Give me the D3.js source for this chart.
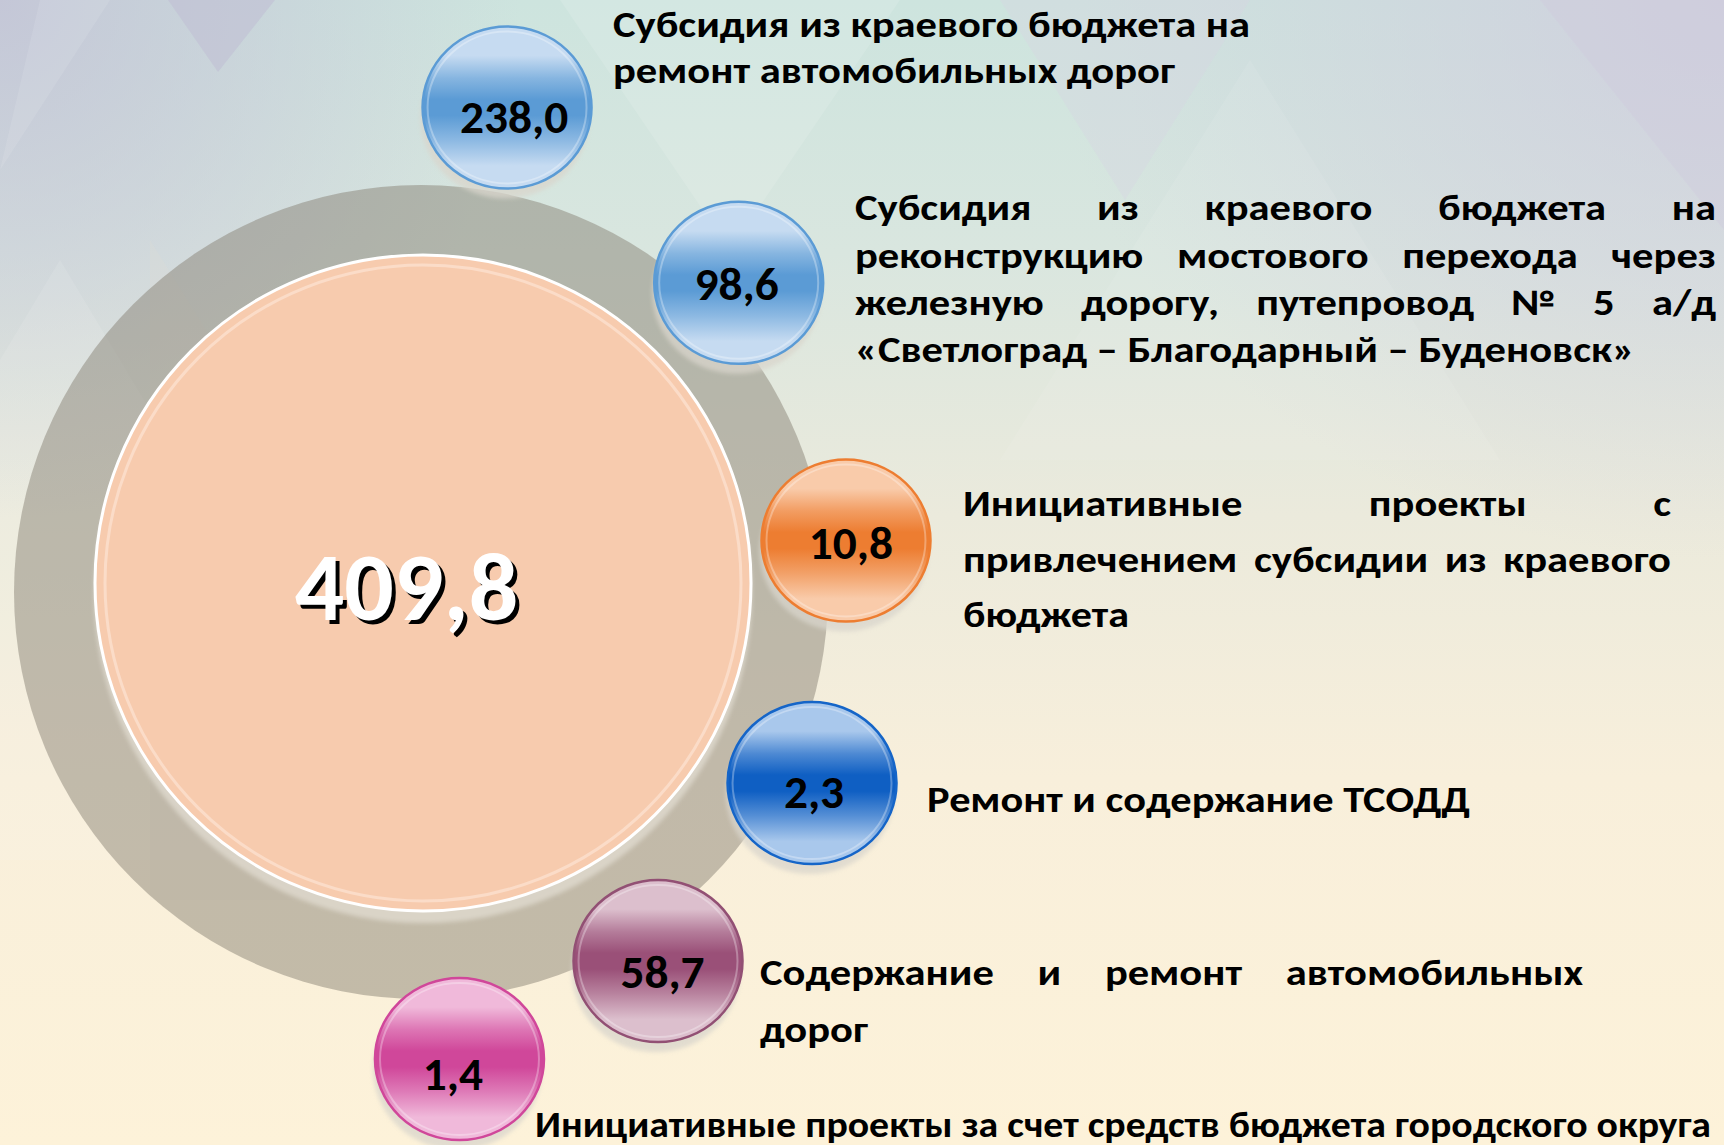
<!DOCTYPE html>
<html><head><meta charset="utf-8">
<script src="https://cdn.jsdelivr.net/npm/d3@7"></script>
<style>html,body{margin:0;padding:0;overflow:hidden;background:#f5efdd}</style>
</head><body><svg id="chart" width="1724" height="1145"></svg>
<script>
// ---------------- DATA ----------------
const categories = [
  "Субсидия из краевого бюджета на ремонт автомобильных дорог",
  "Субсидия из краевого бюджета на реконструкцию мостового перехода через железную дорогу, путепровод № 5 а/д «Светлоград – Благодарный – Буденовск»",
  "Инициативные проекты с привлечением субсидии из краевого бюджета",
  "Ремонт и содержание ТСОДД",
  "Содержание и ремонт автомобильных дорог",
  "Инициативные проекты за счет средств бюджета городского округа"
];
const values = [238.0, 98.6, 10.8, 2.3, 58.7, 1.4];
const labelLines = [
  ["Субсидия из краевого бюджета на", "ремонт автомобильных дорог"],
  ["Субсидия из краевого бюджета на", "реконструкцию мостового перехода через", "железную дорогу, путепровод № 5 а/д", "«Светлоград – Благодарный – Буденовск»"],
  ["Инициативные проекты с", "привлечением субсидии из краевого", "бюджета"],
  ["Ремонт и содержание ТСОДД"],
  ["Содержание и ремонт автомобильных", "дорог"],
  ["Инициативные проекты за счет средств бюджета городского округа"]
];

// ---------------- LAYOUT / STYLE ----------------
const W = 1724, H = 1145;
const RING = {x: 421, y: 592, r: 407};
const CORE = {x: 423, y: 583, r: 328};
const BUBBLE_RX = 84.5, BUBBLE_RY = 81;
const bubbleAngles = [-79.93, -44.22, -6.91, 26.04, 57.29, 85.29];
const bubbleDist   = [492.1, 443.3, 428.1, 435.2, 438.6, 468.6];
const valueOffsets = [[7,10],[-2,2],[5,3.5],[2,9.5],[4.5,11.5],[-6.5,16]];
const palette = [
  {light:"#c6dbf1", mid:"#5b9bd5", edge:"#5b9bd5"},
  {light:"#c6dbf1", mid:"#5b9bd5", edge:"#5b9bd5"},
  {light:"#f9cbaa", mid:"#ed7d31", edge:"#ed7d31"},
  {light:"#a9c8ec", mid:"#0f5fc3", edge:"#1565c8"},
  {light:"#dcbfcd", mid:"#9a5078", edge:"#925074"},
  {light:"#f0b9da", mid:"#d0479a", edge:"#d0479a"}
];
// per line: baseline y, x0, x1, justified?
const labelLayout = [
  [{y:36.5,x0:613,x1:1250,j:false},{y:83,x0:613,x1:1175,j:false}],
  [{y:220,x0:855,x1:1716,j:true},{y:267.5,x0:855,x1:1716,j:true},{y:315,x0:855,x1:1716,j:true},{y:362,x0:855,x1:1635,j:false}],
  [{y:516,x0:963,x1:1671,j:true},{y:571.5,x0:963,x1:1671,j:true},{y:627,x0:963,x1:1129,j:false}],
  [{y:812,x0:927,x1:1470,j:false}],
  [{y:985,x0:760,x1:1583,j:true},{y:1042,x0:760,x1:868,j:false}],
  [{y:1137,x0:535,x1:1711,j:false}]
];

// ---------------- FONT PICK ----------------
function hasFont(name, sample){
  const c = document.createElement('canvas').getContext('2d');
  const m = fb => { c.font = `bold 100px "${name}", ${fb}`; return c.measureText(sample).width; };
  return Math.abs(m('monospace') - m('serif')) < 0.5;
}
const capRatios = {"Carlito":0.644,"Lato":0.7165,"Open Sans":0.714,"Noto Sans":0.714,"DejaVu Sans":0.729};
const FONT = ["Carlito","Lato","Open Sans","Noto Sans","DejaVu Sans"].find(f => hasFont(f, "Субсидия бюджета ЖЩЫ №«» 0123")) || "DejaVu Sans";
const CAP = capRatios[FONT] || 0.72;
const FF = `"${FONT}", sans-serif`;
const FW = 800;

const ruFormat = d3.formatLocale({decimal:",", thousands:" ", grouping:[3], currency:["",""]}).format(".1f");

// ---------------- SVG ----------------
const svg = d3.select("#chart");
const defs = svg.append("defs");

// background gradients
const bg = defs.append("linearGradient").attr("id","bg").attr("x1",0).attr("y1",0).attr("x2",0).attr("y2",1);
[[0,"#cde4de"],[0.22,"#d9e6df"],[0.45,"#ebeadc"],[0.68,"#f8efdb"],[1,"#fdf2d9"]].forEach(([o,c])=>bg.append("stop").attr("offset",o).attr("stop-color",c));
const lavL = defs.append("radialGradient").attr("id","lavL").attr("cx",0).attr("cy",0).attr("r",1).attr("gradientUnits","objectBoundingBox");
lavL.append("stop").attr("offset",0).attr("stop-color","#c3c2d6").attr("stop-opacity",0.85);
lavL.append("stop").attr("offset",1).attr("stop-color","#c3c2d6").attr("stop-opacity",0);
const lavR = defs.append("radialGradient").attr("id","lavR").attr("cx",1).attr("cy",0).attr("r",1).attr("gradientUnits","objectBoundingBox");
lavR.append("stop").attr("offset",0).attr("stop-color","#d0cbde").attr("stop-opacity",0.8);
lavR.append("stop").attr("offset",1).attr("stop-color","#d0cbde").attr("stop-opacity",0);

svg.append("rect").attr("width",W).attr("height",H).attr("fill","url(#bg)");
svg.append("rect").attr("x",0).attr("y",0).attr("width",520).attr("height",520).attr("fill","url(#lavL)");
svg.append("rect").attr("x",1050).attr("y",0).attr("width",674).attr("height",560).attr("fill","url(#lavR)");

// faint triangle texture
const tris = [
  {p:[[168,0],[275,0],[218,72]], c:"#bfbdd4", o:0.55},
  {p:[[40,0],[110,0],[0,170]], c:"#ffffff", o:0.10},
  {p:[[60,260],[420,860],[-300,860]], c:"#ffffff", o:0.10},
  {p:[[150,240],[560,900],[150,900]], c:"#e6e0d2", o:0.18},
  {p:[[560,0],[900,0],[730,250]], c:"#ffffff", o:0.12},
  {p:[[1000,0],[1250,0],[1125,200]], c:"#d7d3e2", o:0.35},
  {p:[[1250,60],[1500,460],[1000,460]], c:"#ffffff", o:0.08},
  {p:[[1540,0],[1724,0],[1724,230]], c:"#cdc9dc", o:0.35}
];
svg.append("g").selectAll("polygon").data(tris).join("polygon")
  .attr("points", d => d.p.map(q=>q.join(",")).join(" "))
  .attr("fill", d=>d.c).attr("opacity", d=>d.o);

// filters
const blur = defs.append("filter").attr("id","soft").attr("x","-20%").attr("y","-20%").attr("width","140%").attr("height","140%");
blur.append("feGaussianBlur").attr("stdDeviation",2);

// big gray ring disc
svg.append("circle").attr("cx",RING.x).attr("cy",RING.y).attr("r",RING.r)
  .attr("fill","rgb(131,125,112)").attr("fill-opacity",0.47);

// core shadow
svg.append("circle").attr("cx",CORE.x).attr("cy",CORE.y+11).attr("r",CORE.r+1)
  .attr("fill","#e2ddd2").attr("opacity",0.75).attr("filter","url(#soft)");
// core
svg.append("circle").attr("cx",CORE.x).attr("cy",CORE.y).attr("r",CORE.r)
  .attr("fill","#f7cbae").attr("stroke","#ffffff").attr("stroke-width",3);
svg.append("circle").attr("cx",CORE.x).attr("cy",CORE.y).attr("r",CORE.r-10)
  .attr("fill","none").attr("stroke","#fbdcc8").attr("stroke-width",3);

// total value
const total = d3.sum(values);
const bigCap = 63, bigFs = bigCap / CAP;
const bigX = 406.5, bigY = 620;
svg.append("text").attr("x",bigX+4).attr("y",bigY+4).attr("text-anchor","middle")
  .attr("font-family",FF).attr("font-weight",FW).attr("font-size",bigFs).attr("fill","#000").text(ruFormat(total));
svg.append("text").attr("x",bigX).attr("y",bigY).attr("text-anchor","middle")
  .attr("font-family",FF).attr("font-weight",FW).attr("font-size",bigFs).attr("fill","#fff").text(ruFormat(total));

// scales
const angleScale = d3.scaleOrdinal().domain(categories).range(bubbleAngles);
const distScale = d3.scaleOrdinal().domain(categories).range(bubbleDist);
const colorScale = d3.scaleOrdinal().domain(categories).range(palette);

const bubbles = categories.map((c,i) => {
  const a = angleScale(c) * Math.PI/180, r = distScale(c);
  return {cat:c, value:values[i], i, cx: RING.x + r*Math.cos(a), cy: RING.y + r*Math.sin(a), col: colorScale(c)};
});

// gradients per bubble
bubbles.forEach(b => {
  const g = defs.append("linearGradient").attr("id","bub"+b.i).attr("x1",0).attr("y1",0).attr("x2",0).attr("y2",1);
  const mix1 = d3.interpolateRgb(b.col.light, b.col.mid);
  [[0,b.col.light],[0.18,b.col.light],[0.32,mix1(0.6)],[0.45,b.col.mid],[0.55,b.col.mid],[0.7,mix1(0.55)],[0.86,b.col.light],[1,b.col.light]]
    .forEach(([o,c]) => g.append("stop").attr("offset",o).attr("stop-color",c));
});

const bg2 = svg.append("g");
bg2.selectAll("ellipse.shadow").data(bubbles).join("ellipse").attr("class","shadow")
  .attr("cx",d=>d.cx-2).attr("cy",d=>d.cy+10).attr("rx",BUBBLE_RX).attr("ry",BUBBLE_RY)
  .attr("fill","#d9d5cc").attr("opacity",0.75).attr("filter","url(#soft)");
bg2.selectAll("ellipse.bub").data(bubbles).join("ellipse").attr("class","bub")
  .attr("cx",d=>d.cx).attr("cy",d=>d.cy).attr("rx",BUBBLE_RX).attr("ry",BUBBLE_RY)
  .attr("fill",d=>`url(#bub${d.i})`).attr("stroke",d=>d.col.edge).attr("stroke-width",2.5);
bg2.selectAll("ellipse.gloss").data(bubbles).join("ellipse").attr("class","gloss")
  .attr("cx",d=>d.cx).attr("cy",d=>d.cy).attr("rx",BUBBLE_RX-5).attr("ry",BUBBLE_RY-5)
  .attr("fill","none").attr("stroke","#ffffff").attr("stroke-opacity",0.3).attr("stroke-width",2);

const valCap = 30.5, valFs = valCap / CAP;
bg2.selectAll("text.val").data(bubbles).join("text").attr("class","val")
  .attr("x",d=>d.cx + valueOffsets[d.i][0])
  .attr("y",d=>d.cy + valueOffsets[d.i][1] + valCap/2)
  .attr("text-anchor","middle").attr("font-family",FF).attr("font-weight",FW)
  .attr("font-size",valFs).attr("fill","#000")
  .text(d => ruFormat(d.value));

// ---------------- LABELS ----------------
const labCap = 24, labFs = labCap / CAP;
const meas = svg.append("text").attr("font-family",FF).attr("font-weight",FW).attr("font-size",labFs).attr("opacity",0);
function tw(s){ meas.text(s); return meas.node().getComputedTextLength(); }

// global horizontal scale from non-justified long lines
const ratios = [];
labelLines.forEach((lines,li)=>lines.forEach((t,k)=>{
  const L = labelLayout[li][k];
  if(!L.j && (L.x1-L.x0) > 300) ratios.push((L.x1-L.x0)/tw(t));
}));
const S = d3.median(ratios);

const lg = svg.append("g").attr("font-family",FF).attr("font-weight",FW).attr("font-size",labFs).attr("fill","#000");
labelLines.forEach((lines,li)=>lines.forEach((t,k)=>{
  const L = labelLayout[li][k];
  if(!L.j){
    lg.append("text").attr("x",L.x0).attr("y",L.y)
      .attr("textLength",L.x1-L.x0).attr("lengthAdjust","spacingAndGlyphs").text(t);
  } else {
    const words = t.split(" ");
    const ws = words.map(w => tw(w)*S);
    const gap = (L.x1-L.x0 - d3.sum(ws)) / Math.max(1, words.length-1);
    let x = L.x0;
    words.forEach((w,wi)=>{
      lg.append("text").attr("x",x).attr("y",L.y)
        .attr("textLength",ws[wi]).attr("lengthAdjust","spacingAndGlyphs").text(w);
      x += ws[wi] + gap;
    });
  }
}));
meas.remove();
</script>
</body></html>
